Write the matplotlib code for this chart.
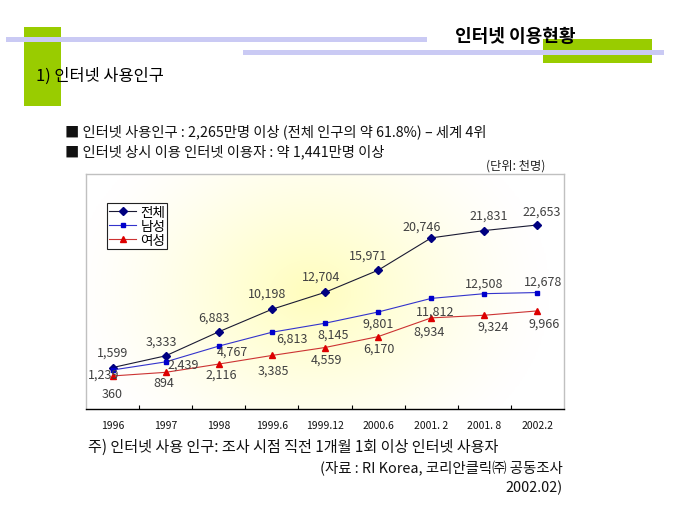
import numpy as np
import matplotlib
matplotlib.use("Agg")
import matplotlib.pyplot as plt
from matplotlib.patches import Rectangle

plt.rcParams['font.family'] = ['Noto Sans CJK KR', 'DejaVu Sans']

# ---------------- data ----------------
categories = ["1996", "1997", "1998", "1999.6", "1999.12", "2000.6", "2001. 2", "2001. 8", "2002.2"]
total = [1599, 3333, 6883, 10198, 12704, 15971, 20746, 21831, 22653]
male = [1239, 2439, 4767, 6813, 8145, 9801, 11812, 12508, 12678]
female = [360, 894, 2116, 3385, 4559, 6170, 8934, 9324, 9966]
series_names = ["전체", "남성", "여성"]

title_text = "인터넷 이용현황"
section_text = "1) 인터넷 사용인구"
bullet1 = "■ 인터넷 사용인구 : 2,265만명 이상 (전체 인구의 약 61.8%) – 세계 4위"
bullet2 = "■ 인터넷 상시 이용 인터넷 이용자 : 약 1,441만명 이상"
unit_text = "(단위: 천명)"
note_text = "주) 인터넷 사용 인구: 조사 시점 직전 1개월 1회 이상 인터넷 사용자"
source1 = "(자료 : RI Korea, 코리안클릭㈜ 공동조사"
source2 = "2002.02)"

# label offsets in pixels (layout)
off_total = [(0, 15), (-4, 15), (-5, 15), (-5, 16), (-4, 16), (-10, 15), (-10, 12), (4, 15), (4, 14)]
off_male = [(-9, -4), (18, -2), (14, -5), (20, -6), (8, -11), (0, -11), (4, -13), (0, 11), (6, 11)]
off_female = [(0, -18), (-2, -10), (2, -10), (2, -15), (1, -12), (1, -12), (-2, -13), (9, -11), (7, -12)]

W, H = 680, 510
fig = plt.figure(figsize=(W / 100, H / 100), dpi=100)
fig.patch.set_facecolor("white")


def fx(px):
    return px / W


def fy(py):
    return 1 - py / H


def frect(x0, y0, x1, y1, color, z):
    fig.patches.append(Rectangle((fx(x0), fy(y1)), fx(x1) - fx(x0), fy(y0) - fy(y1),
                                 transform=fig.transFigure, facecolor=color,
                                 edgecolor="none", zorder=z))


green = "#99cc00"
lav = "#cacaf4"
frect(24, 28, 61, 107, green, 1)
frect(543, 40, 652, 64, green, 1)
frect(6, 38, 427, 43, lav, 2)
frect(243, 51, 664, 56, lav, 2)

fig.text(fx(455), fy(37), title_text, fontsize=13, fontweight="bold", ha="left", va="center", zorder=5)
fig.text(fx(36), fy(76), section_text, fontsize=11.8, ha="left", va="center", zorder=5)
fig.text(fx(65), fy(132), bullet1, fontsize=10.3, ha="left", va="center", color="#111111")
fig.text(fx(65), fy(152), bullet2, fontsize=10.3, ha="left", va="center", color="#111111")
fig.text(fx(545), fy(166), unit_text, fontsize=8.8, ha="right", va="center", color="#222222")
fig.text(fx(88), fy(447), note_text, fontsize=10.9, ha="left", va="center", color="#111111")
fig.text(fx(563), fy(469), source1, fontsize=10.4, ha="right", va="center", color="#111111")
fig.text(fx(563), fy(488), source2, fontsize=10.4, ha="right", va="center", color="#111111")

# ---------------- chart ----------------
ax = fig.add_axes([fx(86), fy(410), fx(564) - fx(86), fy(175) - fy(410)])
x = np.arange(len(categories))

# background radial gradient
gx, gy = np.meshgrid(np.linspace(0, 1, 300), np.linspace(0, 1, 200))
t = np.sqrt(((gx - 0.47) / 0.5) ** 2 + ((gy - 0.5) / 0.8) ** 2)
k = np.clip(1 - t, 0, 1) ** 1.3
img = np.ones((200, 300, 3))
img[..., 2] = 1 - 0.26 * k
img[..., 1] = 1 - 0.005 * k
ax.imshow(img, extent=(0, 1, 0, 1), transform=ax.transAxes, origin="lower",
          aspect="auto", zorder=0, interpolation="bilinear")

ax.plot(x, total, color="#1a1a33", lw=0.8, marker="D", ms=4, mfc="#000080", mec="#000080",
        label=series_names[0], zorder=3)
ax.plot(x, male, color="#3333cc", lw=0.8, marker="s", ms=3.5, mfc="#0000cc", mec="#0000cc",
        label=series_names[1], zorder=3)
ax.plot(x, female, color="#cc3333", lw=0.8, marker="^", ms=4, mfc="#dd0000", mec="#dd0000",
        label=series_names[2], zorder=3)

for vals, offs in ((total, off_total), (male, off_male), (female, off_female)):
    for xi, v, o in zip(x, vals, offs):
        ax.annotate(f"{v:,}", (xi, v), xytext=o, textcoords="offset pixels",
                    ha="center", va="center", fontsize=9, color="#404040", zorder=4)

ax.set_xlim(-0.5, len(categories) - 0.5)
ax.set_ylim(-4520, 30180)
ax.set_xticks(x)
ax.set_xticklabels(categories, fontsize=7.5, color="#111111")
ax.set_xticks(np.arange(0.5, len(categories) - 0.5, 1), minor=True)
ax.tick_params(axis="x", which="major", length=0, pad=8)
ax.tick_params(axis="x", which="minor", length=3, direction="in", color="black", width=0.8)
ax.set_yticks([])
for s in ("left", "top", "right"):
    ax.spines[s].set_color("#c0c0c0")
    ax.spines[s].set_linewidth(1)
ax.spines["bottom"].set_color("black")
ax.spines["bottom"].set_linewidth(1)

leg = ax.legend(loc="upper left", bbox_to_anchor=(0.044, 0.877), fontsize=9.8,
                frameon=True, fancybox=False, edgecolor="#222222", framealpha=1,
                borderpad=0.15, labelspacing=0.0, handlelength=2.0, handletextpad=0.3,
                borderaxespad=0)
leg.get_frame().set_linewidth(0.8)

fig.savefig("out.png", dpi=100)
